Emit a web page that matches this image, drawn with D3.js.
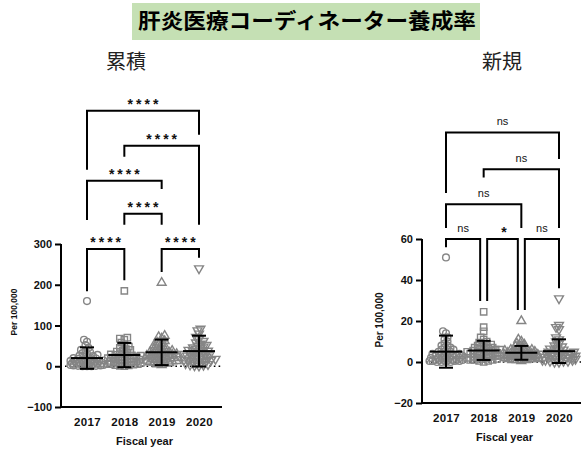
<!DOCTYPE html>
<html>
<head>
<meta charset="utf-8">
<script src="https://cdn.jsdelivr.net/npm/d3@7"></script>
<style>
    body { margin: 0; background: #ffffff; }
    svg { display: block; }
</style>
</head>
<body>
<div id="chart"></div>
<script>

///////////////////////////////////////////////////////////////////////////////////////////////////
// data (per 100,000, one value per prefecture)

const years = ["2017", "2018", "2019", "2020"];

const cum_2017 = [160, 65, 60, 52, 45, 40, 38, 35, 32, 30, 28, 26, 25, 24, 22, 20, 19, 18, 17, 16, 15, 14, 13, 12,
                  12, 11, 10, 10, 9, 8, 8, 7, 6, 6, 5, 5, 4, 4, 3, 3, 2, 2, 1, 1, 0, 0, 0];
const cum_2018 = [185, 70, 68, 65, 58, 52, 48, 45, 42, 40, 38, 36, 34, 32, 30, 29, 28, 27, 26, 25, 24, 23, 22, 21,
                  20, 19, 18, 17, 16, 15, 14, 13, 12, 11, 10, 9, 8, 8, 7, 6, 5, 5, 4, 3, 2, 1, 0];
const cum_2019 = [205, 75, 72, 68, 62, 58, 55, 52, 50, 48, 45, 43, 41, 40, 38, 36, 35, 34, 33, 32, 31, 30, 29, 28,
                  27, 26, 25, 24, 23, 22, 21, 20, 19, 18, 17, 16, 15, 14, 13, 12, 11, 10, 9, 8, 7, 5, 3];
const cum_2020 = [240, 92, 88, 80, 72, 66, 62, 58, 55, 52, 50, 48, 46, 44, 42, 40, 39, 38, 37, 36, 32, 31, 30, 29,
                  28, 27, 26, 25, 24, 23, 20, 19, 18, 17, 16, 15, 14, 13, 12, 11, 9, 7, 5, 4, 3, 2, 1];

const new_2017 = [51, 15, 14, 12, 11, 10, 9, 8, 8, 7, 7, 6, 6, 6, 5, 5, 5, 4, 4, 4, 4, 3, 3, 3, 3, 3, 2, 2, 2, 2,
                  2, 2, 1, 1, 1, 1, 1, 1, 1, 0.5, 0.5, 0.5, 0.5, 0, 0, 0, 0];
const new_2018 = [24.5, 17, 15, 12, 11, 10, 9.5, 9, 8.5, 8, 8, 7.5, 7, 7, 6.5, 6.5, 6, 6, 6, 5.5, 5.5, 5, 5, 5,
                  4.5, 4.5, 4, 4, 4, 3.5, 3.5, 3, 3, 3, 2.5, 2.5, 2, 2, 2, 1.5, 1.5, 1, 1, 1, 0.5, 0.5, 0];
const new_2019 = [20, 11, 10, 9, 8.5, 8, 7.5, 7, 6.5, 6, 6, 5.5, 5.5, 5, 5, 5, 4.5, 4.5, 4.5, 4, 4, 4, 4, 3.5,
                  3.5, 3.5, 3.5, 3, 3, 3, 3, 3, 2.5, 2.5, 2.5, 2.5, 2, 2, 2, 2, 1.5, 1.5, 1.5, 1, 1, 1, 0.5];
const new_2020 = [31, 18, 17, 16, 12, 11, 10, 9, 8, 7.5, 7, 6.5, 6, 6, 5.5, 5, 5, 4.5, 4.5, 4, 4, 4, 3.5, 3.5,
                  3.5, 3, 3, 3, 3, 2.5, 2.5, 2.5, 2, 2, 2, 2, 1.5, 1.5, 1.5, 1, 1, 1, 0.5, 0.5, 0.5, 0, 0];

const cum_ticks = [-100, 0, 100, 200, 300];
const new_ticks = [-20, 0, 20, 40, 60];

// multiple comparisons: [from, to], label, bracket top, left leg end, right leg end (data units)
const cum_pairs  = [["2017", "2018"], ["2019", "2020"], ["2018", "2019"], ["2017", "2019"], ["2018", "2020"], ["2017", "2020"]];
const cum_labels = ["****", "****", "****", "****", "****", "****"];
const cum_top    = [288, 288, 374, 455, 541, 627];
const cum_left   = [184, 231, 347, 359, 514, 482];
const cum_right  = [211, 266, 347, 435, 347, 568];

const new_pairs  = [["2017", "2018"], ["2018", "2019"], ["2019", "2020"], ["2017", "2019"], ["2018", "2020"], ["2017", "2020"]];
const new_labels = ["ns", "*", "ns", "ns", "ns", "ns"];
const new_top    = [60, 60, 60, 77, 94, 112];
const new_left   = [56, 29.8, 25.4, 65.4, 90, 82.4];
const new_right  = [29.8, 25.4, 36, 65.4, 65.4, 99];

const title_text = "肝炎医療コーディネーター養成率";

///////////////////////////////////////////////////////////////////////////////////////////////////

function swarm_offsets(values, y, min_dist, step, max_w) {
    //////////////////////////////////////////////////////////////////////
    //
    // Returns a horizontal offset for every value so that the points
    // pile up like a GraphPad scatter (bottom to top, closest to centre).
    // Offsets are kept inside +/- max_w; when no free slot is left the
    // least crowded one is used, so points overlap as in the original.
    //
    //////////////////////////////////////////////////////////////////////
    let order = values.map(function(v, i) { return i; })
        .sort(function(a, b) { return values[a] - values[b]; });
    let placed = [];
    let offsets = new Array(values.length).fill(0);
    let n_slots = Math.floor(max_w / step) * 2 + 1;
    order.forEach(function(i) {
        let py = y(values[i]);
        let best = 0, best_d = -1;
        for (let k = 0; k < n_slots; k++) {
            let dx = (k % 2 === 0 ? 1 : -1) * Math.ceil(k / 2) * step;
            let nearest = Infinity;
            placed.forEach(function(p) {
                let d = Math.sqrt((p.x - dx) * (p.x - dx) + (p.y - py) * (p.y - py));
                if (d < nearest) { nearest = d; }
            });
            if (nearest >= min_dist) { best = dx; best_d = nearest; break; }
            if (nearest > best_d) { best_d = nearest; best = dx; }
        } // end for
        offsets[i] = best;
        placed.push({ x: best, y: py });
    });
    return offsets;
} // end function

///////////////////////////////////////////////////////////////////////////////////////////////////

function draw_panel(svg, series, ticks, pairs, labels, tops, lefts, rights, options) {

    var font = "'Liberation Sans', Arial, Helvetica, sans-serif";

    var x = d3.scalePoint()
        .domain(years)
        .range(options.x_range);

    var y = d3.scaleLinear()
        .domain([ticks[0], ticks[ticks.length - 1]])
        .range(options.y_range);

    var g = svg.append("g");

    // panel title
    g.append("text")
        .attr("x", options.title_x)
        .attr("y", 69)
        .attr("text-anchor", "middle")
        .style("font-family", "'Noto Sans CJK JP', sans-serif")
        .style("font-size", "20px")
        .style("fill", "#222")
        .text(options.title);

    // zero line
    g.append("line")
        .attr("x1", options.axis_x + 4)
        .attr("x2", options.x_end)
        .attr("y1", y(0))
        .attr("y2", y(0))
        .attr("stroke", "#000")
        .attr("stroke-width", 1.6)
        .attr("stroke-dasharray", "1.6,3.2");

    // points
    var symbols = [d3.symbolCircle, d3.symbolSquare, d3.symbolTriangle, d3.symbolTriangle];
    var sizes = [36, 40, 34, 34];
    series.forEach(function(vals, si) {
        let offs = swarm_offsets(vals, y, 3.4, 1.5, 17);
        let sym = d3.symbol().type(symbols[si]).size(sizes[si]);
        g.append("g")
            .selectAll("path")
            .data(vals)
            .join("path")
                .attr("d", sym)
                .attr("transform", function(d, i) {
                    let t = "translate(" + (x(years[si]) + offs[i]) + "," + y(d) + ")";
                    if (si === 3) { t += " rotate(180)"; }
                    return t;
                })
                .attr("fill", "none")
                .attr("stroke", "#858585")
                .attr("stroke-width", 1.4);
    });

    // mean and SD
    series.forEach(function(vals, si) {
        let m = d3.mean(vals);
        let sd = d3.deviation(vals);
        let cx = x(years[si]);
        let bars = g.append("g").attr("stroke", "#000").attr("stroke-width", 2);
        bars.append("line").attr("x1", cx).attr("x2", cx).attr("y1", y(m + sd)).attr("y2", y(m - sd));
        bars.append("line").attr("x1", cx - 16).attr("x2", cx + 16).attr("y1", y(m)).attr("y2", y(m));
        bars.append("line").attr("x1", cx - 7).attr("x2", cx + 7).attr("y1", y(m + sd)).attr("y2", y(m + sd));
        bars.append("line").attr("x1", cx - 7).attr("x2", cx + 7).attr("y1", y(m - sd)).attr("y2", y(m - sd));
    });

    // y axis
    var y_axis = g.append("g")
        .attr("transform", "translate(" + options.axis_x + ",0)")
        .call(d3.axisLeft(y).tickValues(ticks).tickSize(6).tickPadding(3));
    y_axis.select(".domain").attr("stroke-width", 2).attr("d",
        "M0," + y(ticks[ticks.length - 1]) + "V" + (y(ticks[0]) + 1));
    y_axis.selectAll(".tick line").attr("stroke-width", 2);
    y_axis.selectAll("text")
        .style("font-family", font)
        .style("font-weight", "bold")
        .style("font-size", "11px")
        .style("fill", "#111");

    // x axis
    var x_axis = g.append("g")
        .attr("transform", "translate(0," + y(ticks[0]) + ")")
        .call(d3.axisBottom(x).tickSize(0).tickPadding(11));
    x_axis.select(".domain").attr("stroke-width", 2).attr("d",
        "M" + (options.axis_x - 1) + ",0H" + options.x_end);
    x_axis.selectAll("text")
        .style("font-family", font)
        .style("font-weight", "bold")
        .style("font-size", "11.5px")
        .style("letter-spacing", "0.4px")
        .style("fill", "#111");

    // axis titles
    g.append("text")
        .attr("x", (options.axis_x + options.x_end) / 2 + 3)
        .attr("y", y(ticks[0]) + 38)
        .attr("text-anchor", "middle")
        .style("font-family", font)
        .style("font-weight", "bold")
        .style("font-size", "11px")
        .style("fill", "#111")
        .text("Fiscal year");

    g.append("text")
        .attr("transform", "translate(" + options.label_x + "," + options.label_y + ") rotate(-90)")
        .attr("text-anchor", "middle")
        .style("font-family", font)
        .style("font-weight", "bold")
        .style("font-size", options.label_size)
        .style("fill", "#111")
        .text("Per 100,000");

    // comparison brackets
    pairs.forEach(function(p, i) {
        let x1 = x(p[0]);
        let x2 = x(p[1]);
        // inset where a neighbour at the same height shares the end point
        pairs.forEach(function(q, j) {
            if (j === i || tops[j] !== tops[i]) { return; }
            if (q[1] === p[0]) { x1 += 3.5; }
            if (q[0] === p[1]) { x2 -= 3.5; }
        });
        let yt = y(tops[i]);
        g.append("path")
            .attr("d", "M" + x1 + "," + y(lefts[i]) + "V" + yt + "H" + x2 + "V" + y(rights[i]))
            .attr("fill", "none")
            .attr("stroke", "#000")
            .attr("stroke-width", 2);
        let is_star = labels[i].indexOf("*") === 0;
        g.append("text")
            .attr("x", (x1 + x2) / 2 + (is_star ? 1.5 : 0))
            .attr("y", yt - (is_star ? 2 : 7))
            .attr("text-anchor", "middle")
            .style("font-family", font)
            .style("font-weight", is_star ? "bold" : "normal")
            .style("font-size", is_star ? "14px" : "11px")
            .style("letter-spacing", is_star && labels[i].length > 1 ? "3px" : "0px")
            .style("fill", "#111")
            .text(labels[i]);
    });

} // end function

///////////////////////////////////////////////////////////////////////////////////////////////////

var svg = d3.select("#chart")
  .append("svg")
    .attr("width", 582)
    .attr("height", 450);

svg.append("rect")
    .attr("width", 582)
    .attr("height", 450)
    .attr("fill", "#fff");

// main title on the green band
svg.append("rect")
    .attr("x", 132)
    .attr("y", 3)
    .attr("width", 348)
    .attr("height", 37)
    .attr("fill", "#c5e0b4");

svg.append("text")
    .attr("x", 307)
    .attr("y", 28)
    .attr("text-anchor", "middle")
    .attr("textLength", 338)
    .attr("lengthAdjust", "spacingAndGlyphs")
    .style("font-family", "'Noto Sans CJK JP', sans-serif")
    .style("font-weight", "bold")
    .style("font-size", "21px")
    .style("fill", "#000")
    .text(title_text);

draw_panel(svg, [cum_2017, cum_2018, cum_2019, cum_2020], cum_ticks,
    cum_pairs, cum_labels, cum_top, cum_left, cum_right,
    { x_range: [87, 199], y_range: [407, 244], axis_x: 61, x_end: 222,
      title: "累積", title_x: 126, label_x: 17, label_y: 312, label_size: "8.5px" });

draw_panel(svg, [new_2017, new_2018, new_2019, new_2020], new_ticks,
    new_pairs, new_labels, new_top, new_left, new_right,
    { x_range: [446, 559], y_range: [403, 239], axis_x: 422, x_end: 581,
      title: "新規", title_x: 502, label_x: 383, label_y: 320, label_size: "10px" });

</script>
</body>
</html>
